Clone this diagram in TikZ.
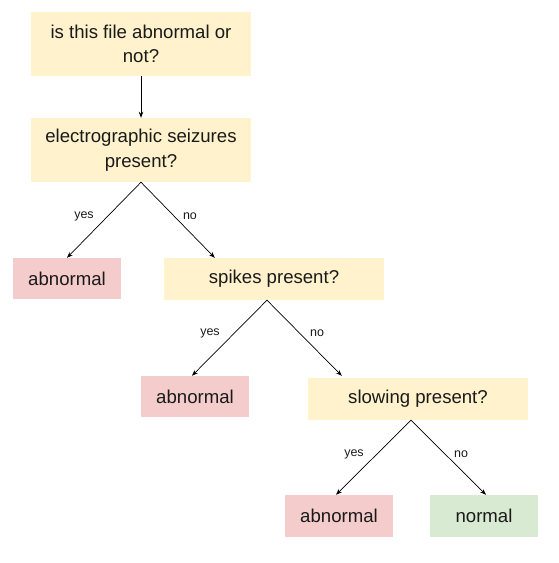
\documentclass[tikz,border=0pt]{standalone}
\usepackage{fontspec}
\setmainfont{Liberation Sans}
\usetikzlibrary{arrows.meta,calc}
\definecolor{qyellow}{HTML}{FFF2CC}
\definecolor{qpink}{HTML}{F4CCCC}
\definecolor{qgreen}{HTML}{D9EAD3}
\definecolor{qtext}{HTML}{1A1A1A}
\begin{document}
\begin{tikzpicture}[x=1pt,y=-1pt,
  box/.style={inner sep=0pt, align=center, text=qtext, font=\fontsize{18.6}{24.5}\selectfont},
  qbox/.style={box, fill=qyellow, minimum width=220pt},
  abox/.style={box, fill=qpink, minimum width=108pt, minimum height=41pt},
  nbox/.style={box, fill=qgreen, minimum width=108pt, minimum height=42pt},
  conn/.style={line width=0.7pt, -{Stealth[length=6pt,width=4.5pt]}},
  lbl/.style={font=\fontsize{12.5}{14}\selectfont, text=qtext}]
\useasboundingbox (0,0) rectangle (559,563);
\node[qbox, minimum height=64pt] (q1) at (141,44) {is this file abnormal or\\not?};
\node[qbox, minimum height=64pt] (q2) at (141,150) {electrographic seizures\\present?};
\node[abox] (a1) at (67,278.5) {abnormal};
\node[qbox, minimum height=42pt] (q3) at (274,279) {spikes present?};
\node[abox] (a2) at (195,396.5) {abnormal};
\node[qbox, minimum height=42pt] (q4) at (418,399) {slowing present?};
\node[abox, minimum height=42pt] (a3) at (339,516) {abnormal};
\node[nbox] (n1) at (484,516) {normal};
\draw[conn] (q1.south) -- (q2.north);
\draw[conn] (q2.south) -- (a1.north);
\draw[conn] (q2.south) -- ($(q3.north west)+(51,0)$);
\draw[conn] ($(q3.south)+(-7,0)$) -- ($(a2.north)+(-3,0)$);
\draw[conn] ($(q3.south)+(-7,0)$) -- ($(q4.north west)+(34,-2)$);
\draw[conn] ($(q4.south)+(-7,0)$) -- ($(a3.north)+(-3,0)$);
\draw[conn] ($(q4.south)+(-7,0)$) -- ($(n1.north)+(2,0)$);
\node[lbl] (l1) at (84,216) {yes};
\node[lbl] (l2) at (190,216) {no};
\node[lbl] (l3) at (210,333) {yes};
\node[lbl] (l4) at (317,333) {no};
\node[lbl] (l5) at (354,454) {yes};
\node[lbl] (l6) at (461,454) {no};
\end{tikzpicture}
\end{document}
